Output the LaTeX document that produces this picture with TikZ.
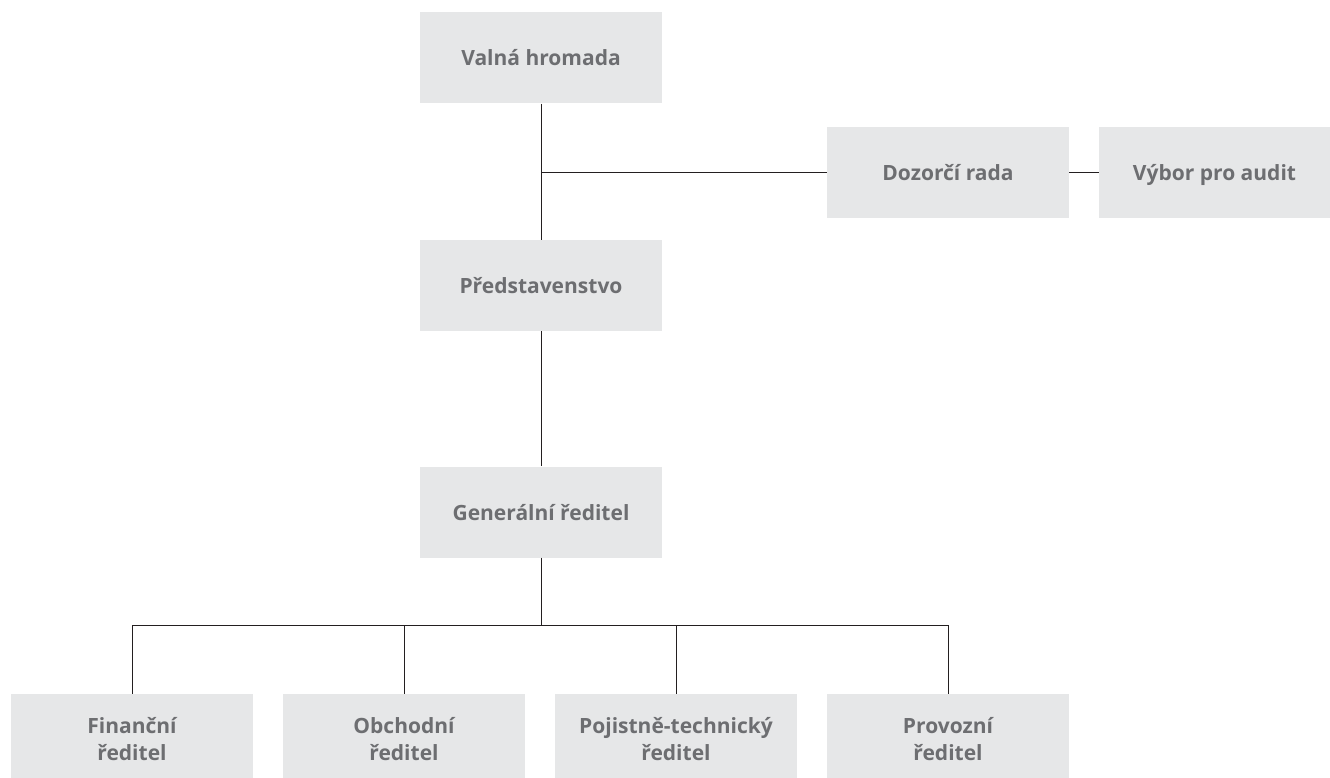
\documentclass[tikz,border=0pt]{standalone}
\usepackage{fontspec}
\setmainfont{Open Sans}
\definecolor{boxfill}{HTML}{E6E7E8}
\definecolor{boxtext}{HTML}{6D6E71}
\definecolor{linec}{HTML}{231F20}
\begin{document}
\begin{tikzpicture}[x=1pt,y=-1pt,
  orgbox/.style={rectangle, fill=boxfill, draw=none, text=boxtext,
    font=\bfseries\fontsize{21}{27}\selectfont, align=center,
    minimum width=242pt, minimum height=91pt, inner sep=0pt},
  onebox/.style={orgbox, text height=18pt, text depth=2pt},
  conn/.style={draw=linec, line width=1pt}]
\useasboundingbox (0,0) rectangle (1330,778);
\node[onebox] (vh) at (541,58) {Valná hromada};
\node[onebox] (dr) at (948,172.5) {Dozorčí rada};
\node[onebox, minimum width=231pt] (va) at (1214.5,172.5) {Výbor pro audit};
\node[onebox] (pr) at (541,285.5) {Představenstvo};
\node[onebox] (gr) at (541,512) {Generální ředitel};
\node[orgbox] (fr) at (132,739.5) {Finanční\\ředitel};
\node[orgbox] (or) at (404,739.5) {Obchodní\\ředitel};
\node[orgbox] (ptr) at (676,739.5) {Pojistně-technický\\ředitel};
\node[orgbox] (pvr) at (948,739.5) {Provozní\\ředitel};
\coordinate (j1) at (vh.south |- dr.west);
\coordinate (bus) at (541,625);
\draw[conn] (vh.south) -- (pr.north);
\draw[conn] (j1) -- (dr.west);
\draw[conn] (dr.east) -- (va.west);
\draw[conn] (pr.south) -- (gr.north);
\draw[conn] (gr.south) -- (bus);
\draw[conn] (fr.north) -- (fr.north |- bus) -- (pvr.north |- bus) -- (pvr.north);
\draw[conn] (or.north) -- (or.north |- bus);
\draw[conn] (ptr.north) -- (ptr.north |- bus);
\end{tikzpicture}
\end{document}
